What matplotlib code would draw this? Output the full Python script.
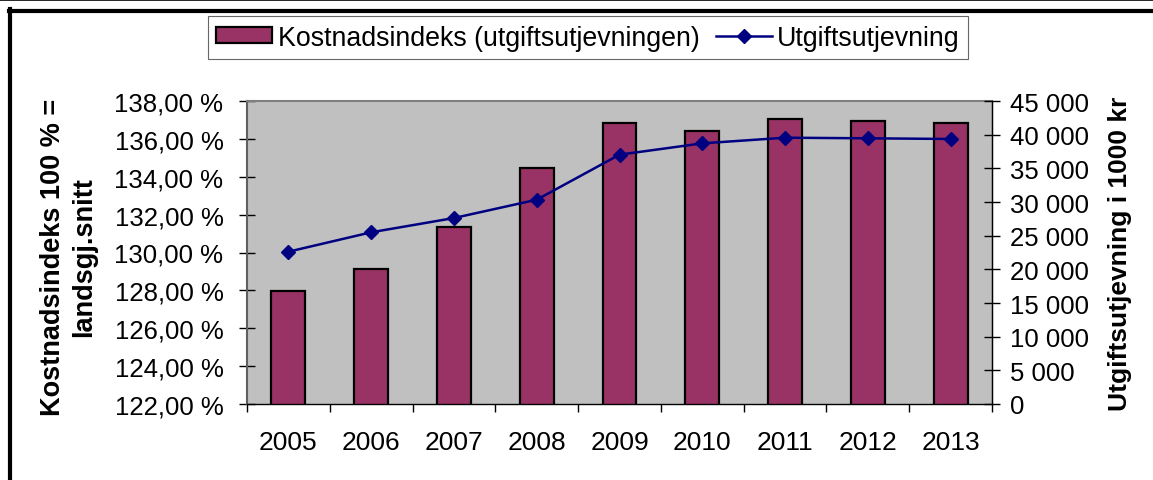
import matplotlib
matplotlib.use('Agg')
import matplotlib.pyplot as plt
import matplotlib.ticker as mticker
from matplotlib.lines import Line2D
from matplotlib.patches import Patch
import numpy as np

plt.rcParams['font.family'] = ['Liberation Sans', 'DejaVu Sans']

years = ['2005', '2006', '2007', '2008', '2009', '2010', '2011', '2012', '2013']
kostnadsindeks = [127.98, 129.13, 131.36, 134.48, 136.82, 136.40, 137.03, 136.96, 136.85]
utgiftsutjevning = [22620, 25500, 27620, 30340, 37030, 38710, 39550, 39460, 39360]

BAR_COLOR = '#993366'
LINE_COLOR = '#000080'
FS = 18.5

fig = plt.figure(figsize=(11.53, 4.81), dpi=100)
ax = fig.add_axes([247/1153, 1-405/481, (992-247)/1153, (405-102)/481])
ax.set_facecolor('#C0C0C0')

x = np.arange(len(years))
ax.bar(x, kostnadsindeks, width=0.41, bottom=0, color=BAR_COLOR,
       edgecolor='black', linewidth=1.6, zorder=2)
ax.set_ylim(122, 138)
ax.set_xlim(-0.5, len(years) - 0.5)
ax.yaxis.set_major_locator(mticker.MultipleLocator(2))
ax.yaxis.set_major_formatter(mticker.FuncFormatter(
    lambda v, p: f'{v:.2f}'.replace('.', ',') + ' %'))

ax.set_xticks(x)
ax.set_xticklabels(years)
ax.set_xticks(np.arange(-0.5, len(years)), minor=True)
ax.tick_params(axis='x', which='major', length=0, labelsize=19, pad=19)
ax.tick_params(axis='x', which='minor', direction='out', length=6, width=1)
ax.tick_params(axis='y', direction='inout', length=12, width=1, labelsize=FS, pad=11)

ax.spines['top'].set_color('#808080')
ax.spines['top'].set_linewidth(1.5)
ax.spines['left'].set_color('#606060')
ax.spines['left'].set_linewidth(1.5)
ax.spines['bottom'].set_color('black')
ax.spines['bottom'].set_linewidth(1)

ax2 = ax.twinx()
ax2.plot(x, utgiftsutjevning, color=LINE_COLOR, linewidth=1.8,
         marker='D', markersize=7, markerfacecolor=LINE_COLOR,
         markeredgecolor=LINE_COLOR, zorder=3)
ax2.set_ylim(0, 45000)
ax2.yaxis.set_major_locator(mticker.MultipleLocator(5000))
ax2.yaxis.set_major_formatter(mticker.FuncFormatter(
    lambda v, p: f'{int(v):,}'.replace(',', ' ')))
ax2.tick_params(axis='y', direction='inout', length=12, width=1, labelsize=FS, pad=7)
ax2.spines['right'].set_color('black')
ax2.spines['right'].set_linewidth(1)
ax2.spines['top'].set_visible(False)
ax2.spines['left'].set_visible(False)
ax2.spines['bottom'].set_visible(False)

fig.text(68.5/1153, 1-257/481, 'Kostnadsindeks 100 % =\nlandsgj.snitt',
         rotation=90, ha='center', va='center', multialignment='center',
         fontsize=19.5, fontweight='bold', linespacing=1.25)
fig.text(1120/1153, 1-254/481, 'Utgiftsutjevning i 1000 kr',
         rotation=90, ha='center', va='center', fontsize=19, fontweight='bold')

handles = [Patch(facecolor=BAR_COLOR, edgecolor='black', linewidth=1.6),
           Line2D([0], [0], color=LINE_COLOR, linewidth=1.8, marker='D',
                  markersize=7, markerfacecolor=LINE_COLOR)]
leg = fig.legend(handles, ['Kostnadsindeks (utgiftsutjevningen)', 'Utgiftsutjevning'],
                 loc='center', bbox_to_anchor=(588/1153, 1-38.5/481), ncol=2,
                 fontsize=19.3, frameon=True, fancybox=False, edgecolor='#404040',
                 handlelength=2.1, handleheight=0.55, handletextpad=0.2,
                 columnspacing=0.6, borderpad=0.3, borderaxespad=0)
leg.get_frame().set_linewidth(0.8)

# outer frame
fig.add_artist(Line2D([0, 1], [1-0.8/481, 1-0.8/481], color='black', linewidth=1.2,
                      transform=fig.transFigure))
fig.add_artist(Line2D([9/1153, 1], [1-11.5/481, 1-11.5/481], color='black', linewidth=3,
                      transform=fig.transFigure))
fig.add_artist(Line2D([10/1153, 10/1153], [0, 1-10/481], color='black', linewidth=3,
                      transform=fig.transFigure))

fig.savefig('out.png', dpi=100)
